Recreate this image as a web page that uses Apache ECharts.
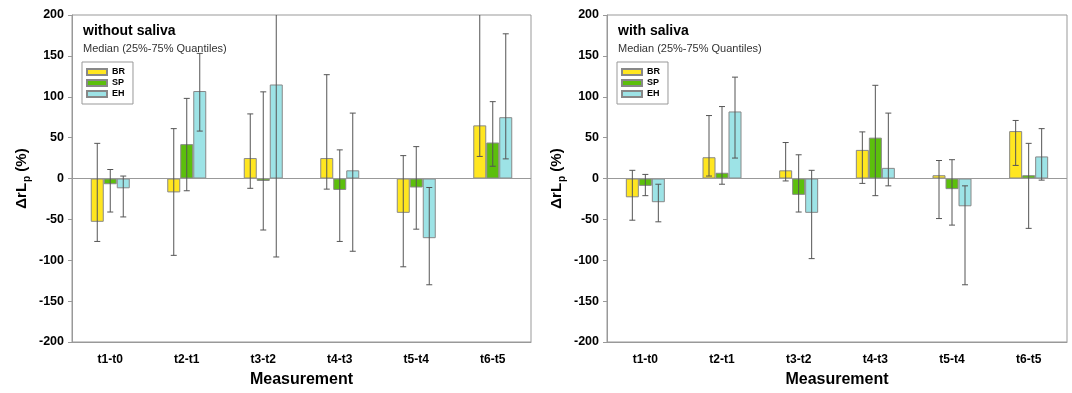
<!DOCTYPE html>
<html>
<head>
<meta charset="utf-8">
<script src="https://cdn.jsdelivr.net/npm/echarts@6/dist/echarts.min.js"></script>
<style>
  html, body { margin: 0; padding: 0; background: #fff; }
  #chart { width: 1072px; height: 393px; }
</style>
</head>
<body>
<div id="chart"></div>
<script>
const categories = ['t1-t0', 't2-t1', 't3-t2', 't4-t3', 't5-t4', 't6-t5'];
const groups = ['BR', 'SP', 'EH'];
const yTicks = [-200, -150, -100, -50, 0, 50, 100, 150, 200];

// without saliva: medians and 25% / 75% quantiles
const woBR = [-53, -17, 25, 25, -42, 65];
const woBRlow = [-77, -94, -12, -13, -108, 27];
const woBRhigh = [43, 61, 79, 127, 28, 230];
const woSP = [-7, 42, -3, -14, -11, 44];
const woSPlow = [-41, -15, -63, -77, -62, 15];
const woSPhigh = [11, 98, 106, 35, 39, 94];
const woEH = [-12, 107, 115, 10, -73, 75];
const woEHlow = [-47, 58, -96, -89, -130, 24];
const woEHhigh = [3, 153, 230, 80, -11, 177];

// with saliva
const wBR = [-23, 26, 10, 35, 4, 58];
const wBRlow = [-51, 3, -3, -6, -49, 16];
const wBRhigh = [10, 77, 44, 57, 22, 71];
const wSP = [-9, 7, -20, 50, -13, 4];
const wSPlow = [-21, -7, -41, -21, -57, -61];
const wSPhigh = [5, 88, 29, 114, 23, 43];
const wEH = [-29, 82, -42, 13, -34, 27];
const wEHlow = [-53, 25, -98, -9, -130, -2];
const wEHhigh = [-7, 124, 10, 80, -9, 61];

const colors = { BR: '#FFE620', SP: '#5CBF0C', EH: '#9DE3E6' };
const BAR_W = 13;
const FONT = 'Liberation Sans, Arial, sans-serif';

const panels = [
  { title: 'without saliva', left: 72, right: 541, titleLeft: 83,
    med: [woBR, woSP, woEH], low: [woBRlow, woSPlow, woEHlow], high: [woBRhigh, woSPhigh, woEHhigh] },
  { title: 'with saliva', left: 607, right: 5, titleLeft: 618,
    med: [wBR, wSP, wEH], low: [wBRlow, wSPlow, wEHlow], high: [wBRhigh, wSPhigh, wEHhigh] }
];

function errorRenderer(k) {
  return function (params, api) {
    const i = api.value(0);
    const pLo = api.coord([i, api.value(1)]);
    const pHi = api.coord([i, api.value(2)]);
    const x = pLo[0] + (k - 1) * BAR_W;
    const st = { stroke: '#555', lineWidth: 1 };
    return {
      type: 'group',
      children: [
        { type: 'line', shape: { x1: x, y1: pLo[1], x2: x, y2: pHi[1] }, style: st },
        { type: 'line', shape: { x1: x - 3, y1: pLo[1], x2: x + 3, y2: pLo[1] }, style: st },
        { type: 'line', shape: { x1: x - 3, y1: pHi[1], x2: x + 3, y2: pHi[1] }, style: st }
      ]
    };
  };
}

const grid = [], xAxis = [], yAxis = [], series = [], title = [], legend = [];
panels.forEach((p, pi) => {
  grid.push({ left: p.left, right: p.right, top: 15, bottom: 48, show: true,
    borderColor: '#999', borderWidth: 1 });
  xAxis.push({
    type: 'category', gridIndex: pi, data: categories,
    name: 'Measurement', nameLocation: 'middle', nameGap: 30,
    nameTextStyle: { fontFamily: FONT, fontWeight: 'bold', fontSize: 16, color: '#000' },
    axisLine: { onZero: false, lineStyle: { color: '#999' } },
    axisTick: { alignWithLabel: true, length: 4, lineStyle: { color: '#999' } },
    axisLabel: { fontFamily: FONT, fontWeight: 'bold', fontSize: 12, color: '#000', margin: 12 }
  });
  yAxis.push({
    type: 'value', gridIndex: pi, min: yTicks[0], max: yTicks[yTicks.length - 1], interval: 50,
    name: '{n|\u0394rL}{s|p}{n| (%)}', nameLocation: 'middle', nameGap: 40,
    nameTextStyle: { rich: {
      n: { fontFamily: FONT, fontWeight: 'bold', fontSize: 15, color: '#000', verticalAlign: 'top', lineHeight: 18 },
      s: { fontFamily: FONT, fontWeight: 'bold', fontSize: 10, color: '#000', verticalAlign: 'bottom', lineHeight: 10, padding: [11, 0, 0, 1] }
    } },
    axisLine: { show: true, lineStyle: { color: '#999' } },
    axisTick: { show: true, length: 4, lineStyle: { color: '#999' } },
    splitLine: { show: false },
    axisLabel: { fontFamily: FONT, fontWeight: 'bold', fontSize: 12.5, color: '#000', margin: 8 }
  });
  title.push({
    text: p.title, subtext: 'Median (25%-75% Quantiles)',
    left: p.titleLeft - 5, top: 19, itemGap: 5,
    textStyle: { fontFamily: FONT, fontWeight: 'bold', fontSize: 14, color: '#000' },
    subtextStyle: { fontFamily: FONT, fontSize: 11, color: '#333' }
  });
  legend.push({
    data: groups, orient: 'vertical', left: p.titleLeft - 1, top: 62,
    itemWidth: 20, itemHeight: 6, itemGap: 1, icon: 'rect',
    padding: [5, 8, 5, 4], borderColor: '#999', borderWidth: 1,
    textStyle: { fontFamily: FONT, fontWeight: 'bold', fontSize: 9, color: '#000', lineHeight: 10 },
    selectedMode: false
  });
  groups.forEach((g, k) => {
    const s = {
      name: g, type: 'bar', xAxisIndex: pi, yAxisIndex: pi,
      data: p.med[k], barWidth: BAR_W, barGap: '0%',
      itemStyle: { color: colors[g], borderColor: '#888', borderWidth: 1 }
    };
    if (k === 0) {
      s.markLine = { silent: true, symbol: 'none', label: { show: false },
        lineStyle: { color: '#999', type: 'solid', width: 1 }, data: [{ yAxis: 0 }] };
    }
    series.push(s);
  });
  groups.forEach((g, k) => {
    series.push({
      name: 'err-' + g + '-' + pi, type: 'custom', xAxisIndex: pi, yAxisIndex: pi,
      renderItem: errorRenderer(k), clip: true, z: 5,
      data: categories.map((c, i) => [i, p.low[k][i], p.high[k][i]])
    });
  });
});

const chart = echarts.init(document.getElementById('chart'));
chart.setOption({ animation: false, grid, xAxis, yAxis, title, legend, series });
window.addEventListener('resize', () => chart.resize());
</script>
</body>
</html>
